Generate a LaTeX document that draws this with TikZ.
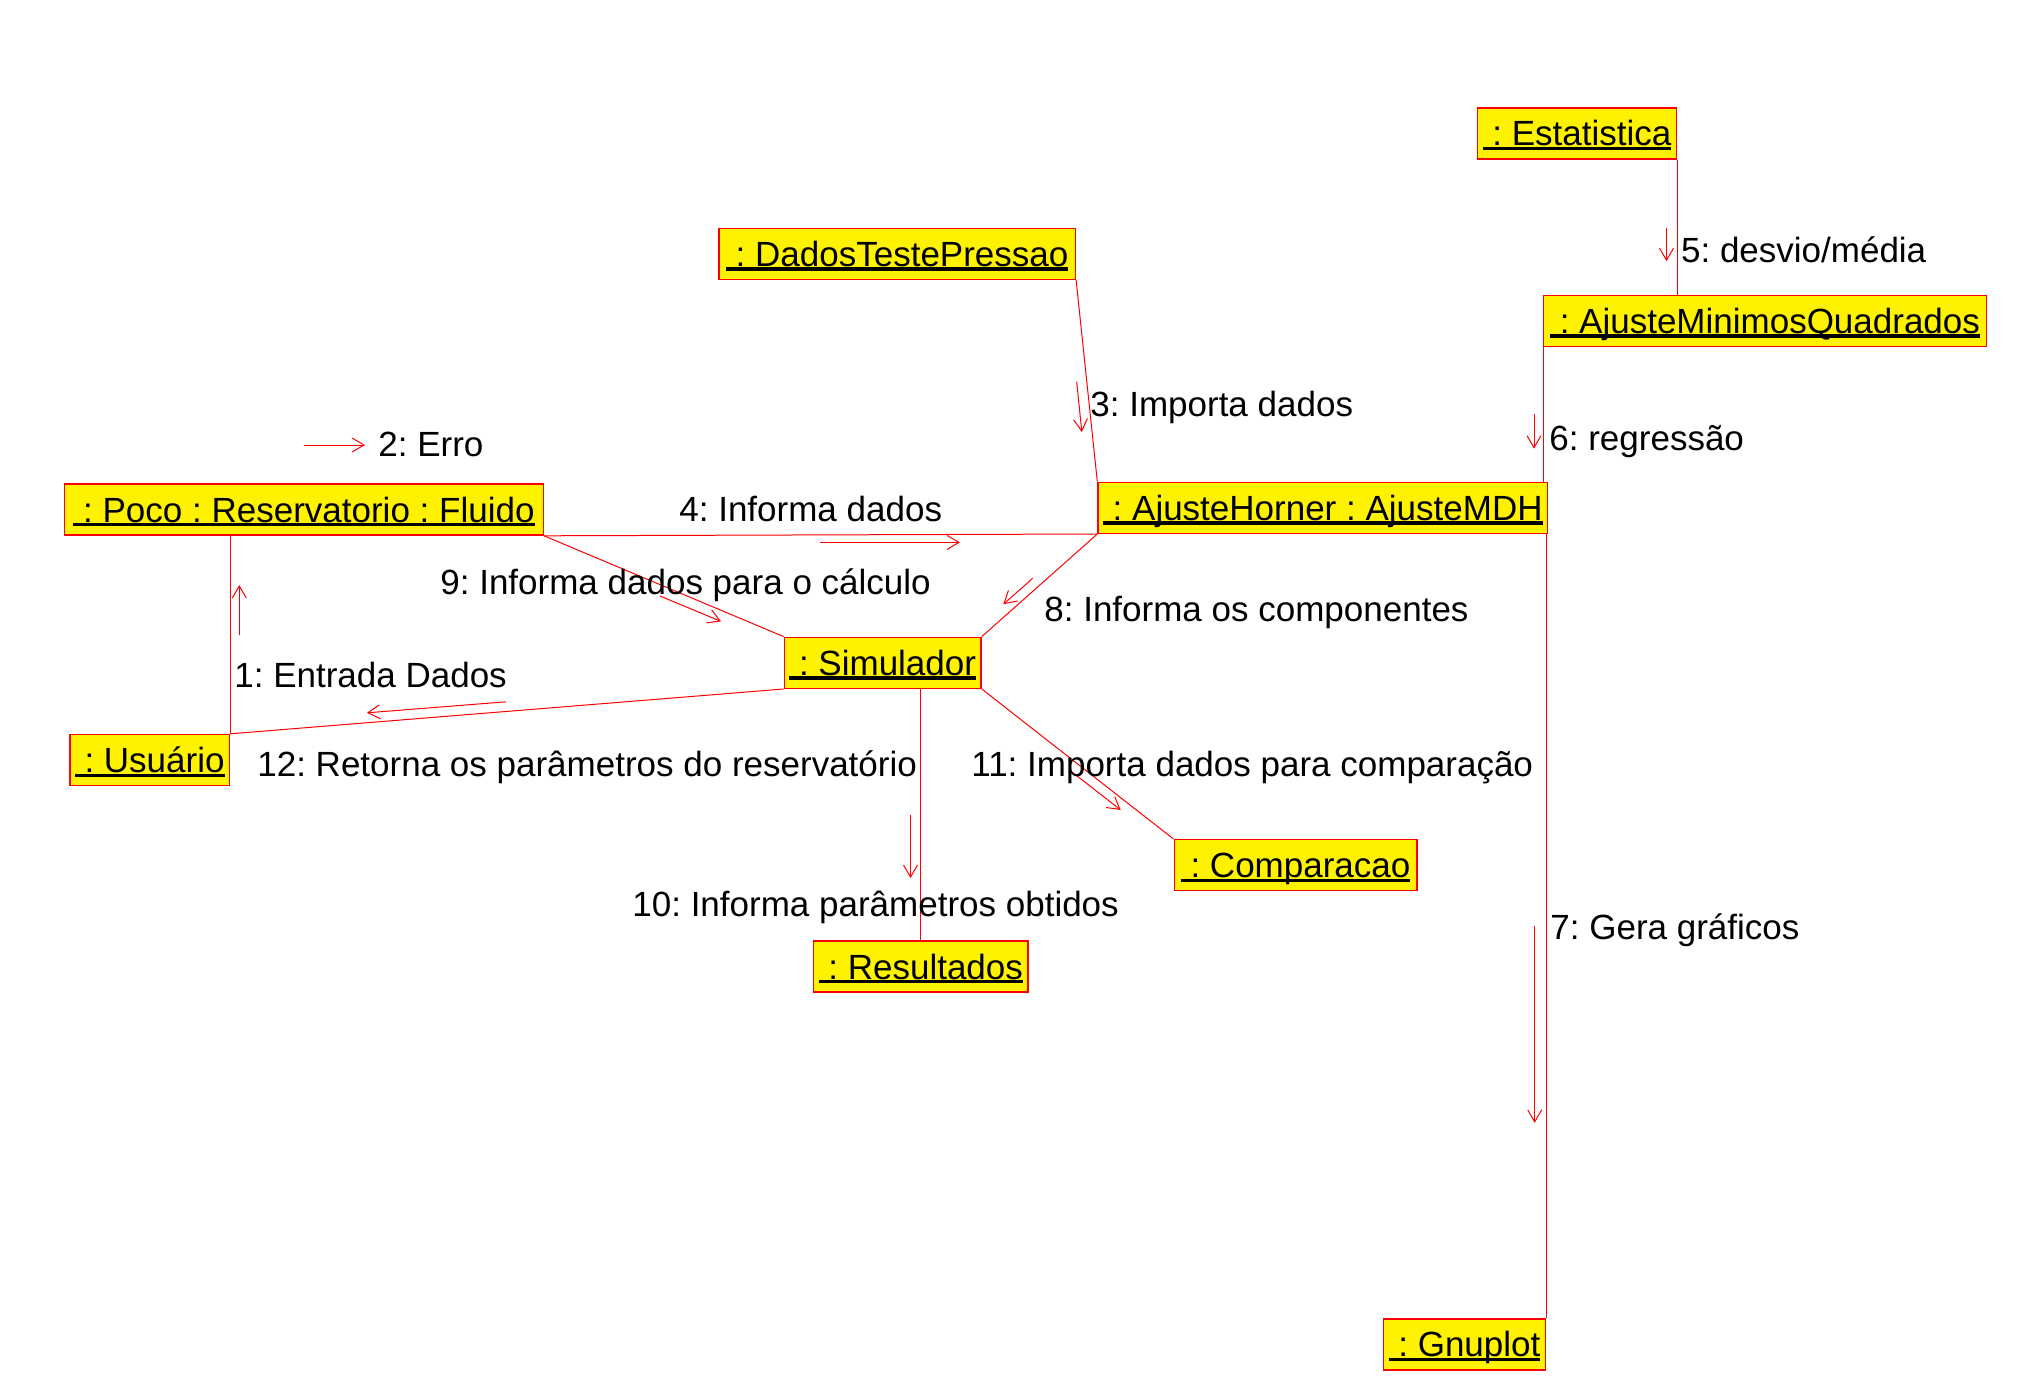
\documentclass[tikz,border=0pt]{standalone}
\usepackage{fontspec}
\setmainfont{Liberation Sans}
\usetikzlibrary{arrows.meta}
\frenchspacing
\newcommand\objul[1]{\setbox0\hbox{#1}\rlap{\rule[-2.1pt]{\wd0}{1.6pt}}\box0}
\tikzset{
  obj/.style={draw=red, fill=yellow, line width=0.7pt, inner xsep=2.5pt, inner ysep=0pt,
    minimum height=25.5pt, text height=12.5pt, text depth=0pt,
    font=\fontsize{17.5}{21}\selectfont\frenchspacing},
  lbl/.style={anchor=west, inner sep=0pt, text height=12.5pt, text depth=0pt,
    font=\fontsize{17.5}{21}\selectfont\frenchspacing},
  conn/.style={draw=red, line width=0.5pt},
  msg/.style={draw=red, line width=0.5pt, -{Straight Barb[length=6pt,width=7pt]}}
}
\begin{document}
\begin{tikzpicture}[x=0.5pt,y=-0.5pt]
\useasboundingbox (0,0) rectangle (2027,1386);
% objects
\node[obj, minimum width=99.2pt]  (est)  at (1577,133.5)  {\objul{\ : Estatistica}};
\node[obj, minimum width=178.2pt] (dtp)  at (897.2,253.8) {\objul{\ : DadosTestePressao}};
\node[obj, minimum width=221.3pt] (amq)  at (1765,320.8)  {\objul{\ : AjusteMinimosQuadrados}};
\node[obj, minimum width=239.25pt](poco) at (304,509.6)   {\objul{\ : Poco : Reservatorio : Fluido}};
\node[obj, minimum width=224.8pt] (ah)   at (1322.8,507.8){\objul{\ : AjusteHorner : AjusteMDH}};
\node[obj, minimum width=98.3pt]  (sim)  at (882.7,662.8) {\objul{\ : Simulador}};
\node[obj, minimum width=79.9pt]  (usu)  at (149.7,760)   {\objul{\ : Usuário}};
\node[obj, minimum width=121.4pt] (comp) at (1295.6,865.2){\objul{\ : Comparacao}};
\node[obj, minimum width=107.25pt](res)  at (920.8,966.5) {\objul{\ : Resultados}};
\node[obj, minimum width=80.5pt]  (gnu)  at (1464.5,1344.4){\objul{\ : Gnuplot}};
% links
\draw[conn] (poco.south east) -- (ah.south west);
\draw[conn] (poco.south east) -- (sim.north west);
\draw[conn] (usu.north east |- poco.south) -- (usu.north east);
\draw[conn] (sim.south west) -- (usu.north east);
\draw[conn] (dtp.south east) -- (ah.north west);
\draw[conn] (ah.south west) -- (sim.north east);
\draw[conn] (est.south east) -- (est.south east |- amq.north);
\draw[conn] (amq.south west) -- (amq.south west |- ah.north);
\draw[conn] (gnu.north east |- ah.south) -- (gnu.north east);
\draw[conn] (res.north |- sim.south) -- (res.north);
\draw[conn] (sim.south east) -- (comp.north west);
% message arrows
\coordinate (a2s) at (304,445);      \coordinate (a2e) at (365,445);
\coordinate (a4s) at (820,542.4);    \coordinate (a4e) at (960,542.4);
\coordinate (a9s) at (660,596);      \coordinate (a9e) at (721,621.4);
\coordinate (a1s) at (239.3,635);    \coordinate (a1e) at (239.3,585);
\coordinate (a12s) at (506,701.8);   \coordinate (a12e) at (367,712.8);
\coordinate (a3s) at (1076.7,381.7); \coordinate (a3e) at (1081.8,432);
\coordinate (a5s) at (1666.5,227.7); \coordinate (a5e) at (1666.5,261.2);
\coordinate (a6s) at (1534,414);     \coordinate (a6e) at (1534,448.7);
\coordinate (a8s) at (1032.7,578.3); \coordinate (a8e) at (1003.3,604.3);
\coordinate (a11s) at (1072,772);    \coordinate (a11e) at (1120.7,810);
\coordinate (a10s) at (910.5,814.5); \coordinate (a10e) at (910.5,878);
\coordinate (a7s) at (1534.7,925.8); \coordinate (a7e) at (1534.7,1122.8);
\foreach \m in {2,4,9,1,12,3,5,6,8,11,10,7} {\draw[msg] (a\m s) -- (a\m e);}
% labels
\node[lbl] (l2)  at (378,444)     {2: Erro};
\node[lbl] (l4)  at (679,509)     {4: Informa dados};
\node[lbl] (l9)  at (440,581.7)   {9: Informa dados para o cálculo};
\node[lbl] (l1)  at (234,675)     {1: Entrada Dados};
\node[lbl] (l12) at (257,764.4)   {12: Retorna os parâmetros do reservatório};
\node[lbl] (l3)  at (1090,404)    {3: Importa dados};
\node[lbl] (l5)  at (1680.7,250)  {5: desvio/média};
\node[lbl] (l6)  at (1549,437.5)  {6: regressão};
\node[lbl] (l8)  at (1044,609)    {8: Informa os componentes};
\node[lbl] (l11) at (971,764.4)   {11: Importa dados para comparação};
\node[lbl] (l10) at (632,904)     {10: Informa parâmetros obtidos};
\node[lbl] (l7)  at (1550,926.8)  {7: Gera gráficos};
\end{tikzpicture}
\end{document}
